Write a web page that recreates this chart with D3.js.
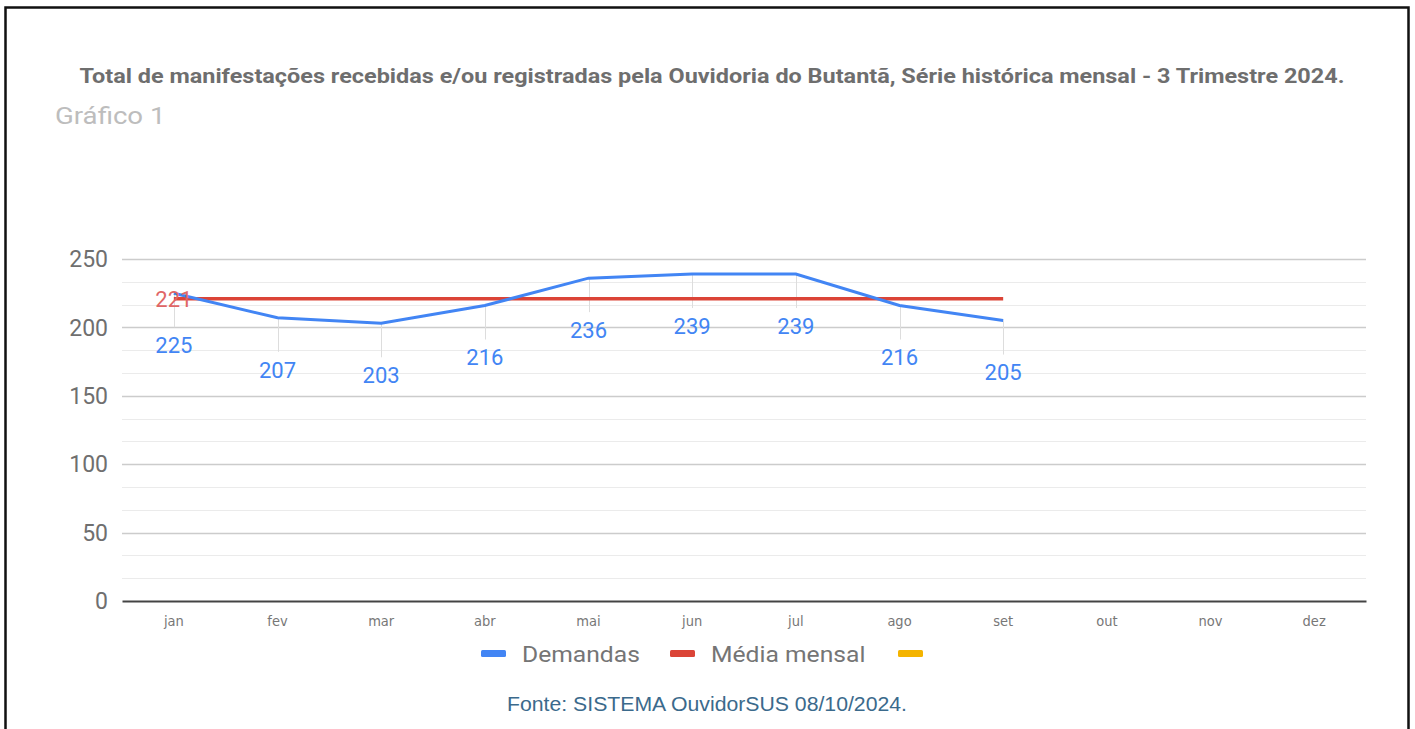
<!DOCTYPE html>
<html>
<head>
<meta charset="utf-8">
<script src="https://cdn.jsdelivr.net/npm/d3@7"></script>
<style>
  body { margin: 0; background: #fff; }
  svg { display: block; }
</style>
</head>
<body>
<div id="chart"></div>
<script>
// data
var months = ["jan", "fev", "mar", "abr", "mai", "jun", "jul", "ago", "set", "out", "nov", "dez"];
var demandas = [225, 207, 203, 216, 236, 239, 239, 216, 205];
var mediaMensal = [221, 221, 221, 221, 221, 221, 221, 221, 221];
var yTicks = [0, 50, 100, 150, 200, 250];
var legendNames = ["Demandas", "Média mensal", ""];
var titleText = "Total de manifestações recebidas e/ou registradas pela Ouvidoria do Butantã, Série histórica mensal - 3 Trimestre 2024.";
var subTitle = "Gráfico 1";
var fonteText = "Fonte: SISTEMA OuvidorSUS 08/10/2024.";

var W = 1415, H = 729;
var margin = {top: 259, right: 49, bottom: 128, left: 122};
var width = W - margin.left - margin.right,
    height = H - margin.top - margin.bottom;

var colors = ["#4285f4", "#db4437", "#f4b400"];

var svg = d3.select("#chart")
  .append("svg")
    .attr("width", W)
    .attr("height", H);

// the source image is a bit wider than tall, so some texts are stretched
function stretch(sel, k) {
  sel.each(function() {
    var w = this.getComputedTextLength();
    if (w > 0) {
      d3.select(this)
        .attr("textLength", w * k)
        .attr("lengthAdjust", "spacingAndGlyphs");
    }
  });
}

// frame
svg.append("rect")
  .attr("x", 5.5).attr("y", 7.5)
  .attr("width", 1403).attr("height", 730)
  .attr("fill", "none")
  .attr("stroke", "#111")
  .attr("stroke-width", 2.5);

svg.append("text")
  .attr("x", 712).attr("y", 83)
  .attr("text-anchor", "middle")
  .style("font-family", "Roboto")
  .style("font-weight", "bold")
  .style("font-size", "20.5px")
  .attr("fill", "#6e6e6e")
  .text(titleText)
  .attr("textLength", 1265)
  .attr("lengthAdjust", "spacingAndGlyphs");

svg.append("text")
  .attr("x", 55).attr("y", 124)
  .style("font-family", "Roboto")
  .style("font-size", "23px")
  .attr("fill", "#bdbdbd")
  .text(subTitle)
  .call(stretch, 1.2);

var g = svg.append("g")
  .attr("transform", "translate(" + margin.left + "," + margin.top + ")");

var x = d3.scaleBand()
  .domain(months)
  .range([0, width]);

var y = d3.scaleLinear()
  .domain([0, 250])
  .range([height, 0]);

// minor gridlines
var minor = d3.range(0, 250, 50 / 3).filter(function(v) { return Math.abs(v % 50) > 1 && Math.abs(v % 50 - 50) > 1; });
g.selectAll(".minor")
  .data(minor)
  .enter().append("line")
    .attr("x1", 0).attr("x2", width)
    .attr("y1", function(d) { return Math.round(y(d)) + 0.5; })
    .attr("y2", function(d) { return Math.round(y(d)) + 0.5; })
    .attr("stroke", "#ebebeb");

// major gridlines
g.selectAll(".major")
  .data(yTicks.slice(1))
  .enter().append("line")
    .attr("x1", 0).attr("x2", width)
    .attr("y1", function(d) { return Math.round(y(d)) + 0.5; })
    .attr("y2", function(d) { return Math.round(y(d)) + 0.5; })
    .attr("stroke", "#cccccc")
    .attr("stroke-width", 1.5);

// y axis labels
g.selectAll(".ylab")
  .data(yTicks)
  .enter().append("text")
    .attr("x", -14)
    .attr("y", function(d) { return y(d); })
    .attr("dy", "0.36em")
    .attr("text-anchor", "end")
    .style("font-family", "Roboto")
    .style("font-size", "23px")
    .attr("fill", "#6f6f6f")
    .text(function(d) { return d; });

// x axis
var xAxis = g.append("g")
  .attr("transform", "translate(0," + height + ")")
  .call(d3.axisBottom(x).tickSize(0).tickPadding(15));
xAxis.select(".domain")
  .attr("stroke", "#444")
  .attr("stroke-width", 2);
xAxis.selectAll("text")
  .style("font-family", "Liberation Sans Narrow, DejaVu Sans Condensed, sans-serif")
  .style("font-size", "14.5px")
  .attr("fill", "#777");

var cx = function(i) { return x(months[i]) + x.bandwidth() / 2; };

// annotation stems
g.selectAll(".stem")
  .data(demandas)
  .enter().append("line")
    .attr("x1", function(d, i) { return Math.round(cx(i)) + 0.5; })
    .attr("x2", function(d, i) { return Math.round(cx(i)) + 0.5; })
    .attr("y1", function(d) { return y(d); })
    .attr("y2", function(d) { return y(d) + 34; })
    .attr("stroke", "#dddddd");

var line = d3.line()
  .x(function(d, i) { return cx(i); })
  .y(function(d) { return y(d); });

g.append("path")
  .datum(mediaMensal)
  .attr("d", line)
  .attr("fill", "none")
  .attr("stroke", colors[1])
  .attr("stroke-width", 3.5);

g.append("path")
  .datum(demandas)
  .attr("d", line)
  .attr("fill", "none")
  .attr("stroke", colors[0])
  .attr("stroke-width", 3);

// data labels
g.selectAll(".dlab")
  .data(demandas)
  .enter().append("text")
    .attr("x", function(d, i) { return cx(i); })
    .attr("y", function(d) { return y(d) + 52; })
    .attr("dy", "0.36em")
    .attr("text-anchor", "middle")
    .style("font-family", "Roboto")
    .style("font-size", "22px")
    .attr("fill", colors[0])
    .text(function(d) { return d; });

g.append("text")
  .attr("x", cx(0))
  .attr("y", y(mediaMensal[0]))
  .attr("dy", "0.36em")
  .attr("text-anchor", "middle")
  .style("font-family", "Roboto")
  .style("font-size", "22px")
  .attr("fill", "#e06666")
  .text(mediaMensal[0]);

// legend
var legX = [481, 670, 898];
var legend = svg.append("g");
legendNames.forEach(function(name, i) {
  legend.append("rect")
    .attr("x", legX[i]).attr("y", 650)
    .attr("width", 25).attr("height", 7)
    .attr("rx", 1.5)
    .attr("fill", colors[i]);
  legend.append("text")
    .attr("x", legX[i] + 41).attr("y", 654)
    .attr("dy", "0.36em")
    .style("font-family", "Roboto")
    .style("font-size", "22px")
    .attr("fill", "#757575")
    .text(name)
    .call(stretch, 1.12);
});

svg.append("text")
  .attr("x", 707).attr("y", 711)
  .attr("text-anchor", "middle")
  .style("font-family", "Liberation Sans")
  .style("font-size", "19.5px")
  .attr("fill", "#3b6a8c")
  .text(fonteText)
  .attr("textLength", 400)
  .attr("lengthAdjust", "spacingAndGlyphs");
</script>
</body>
</html>
